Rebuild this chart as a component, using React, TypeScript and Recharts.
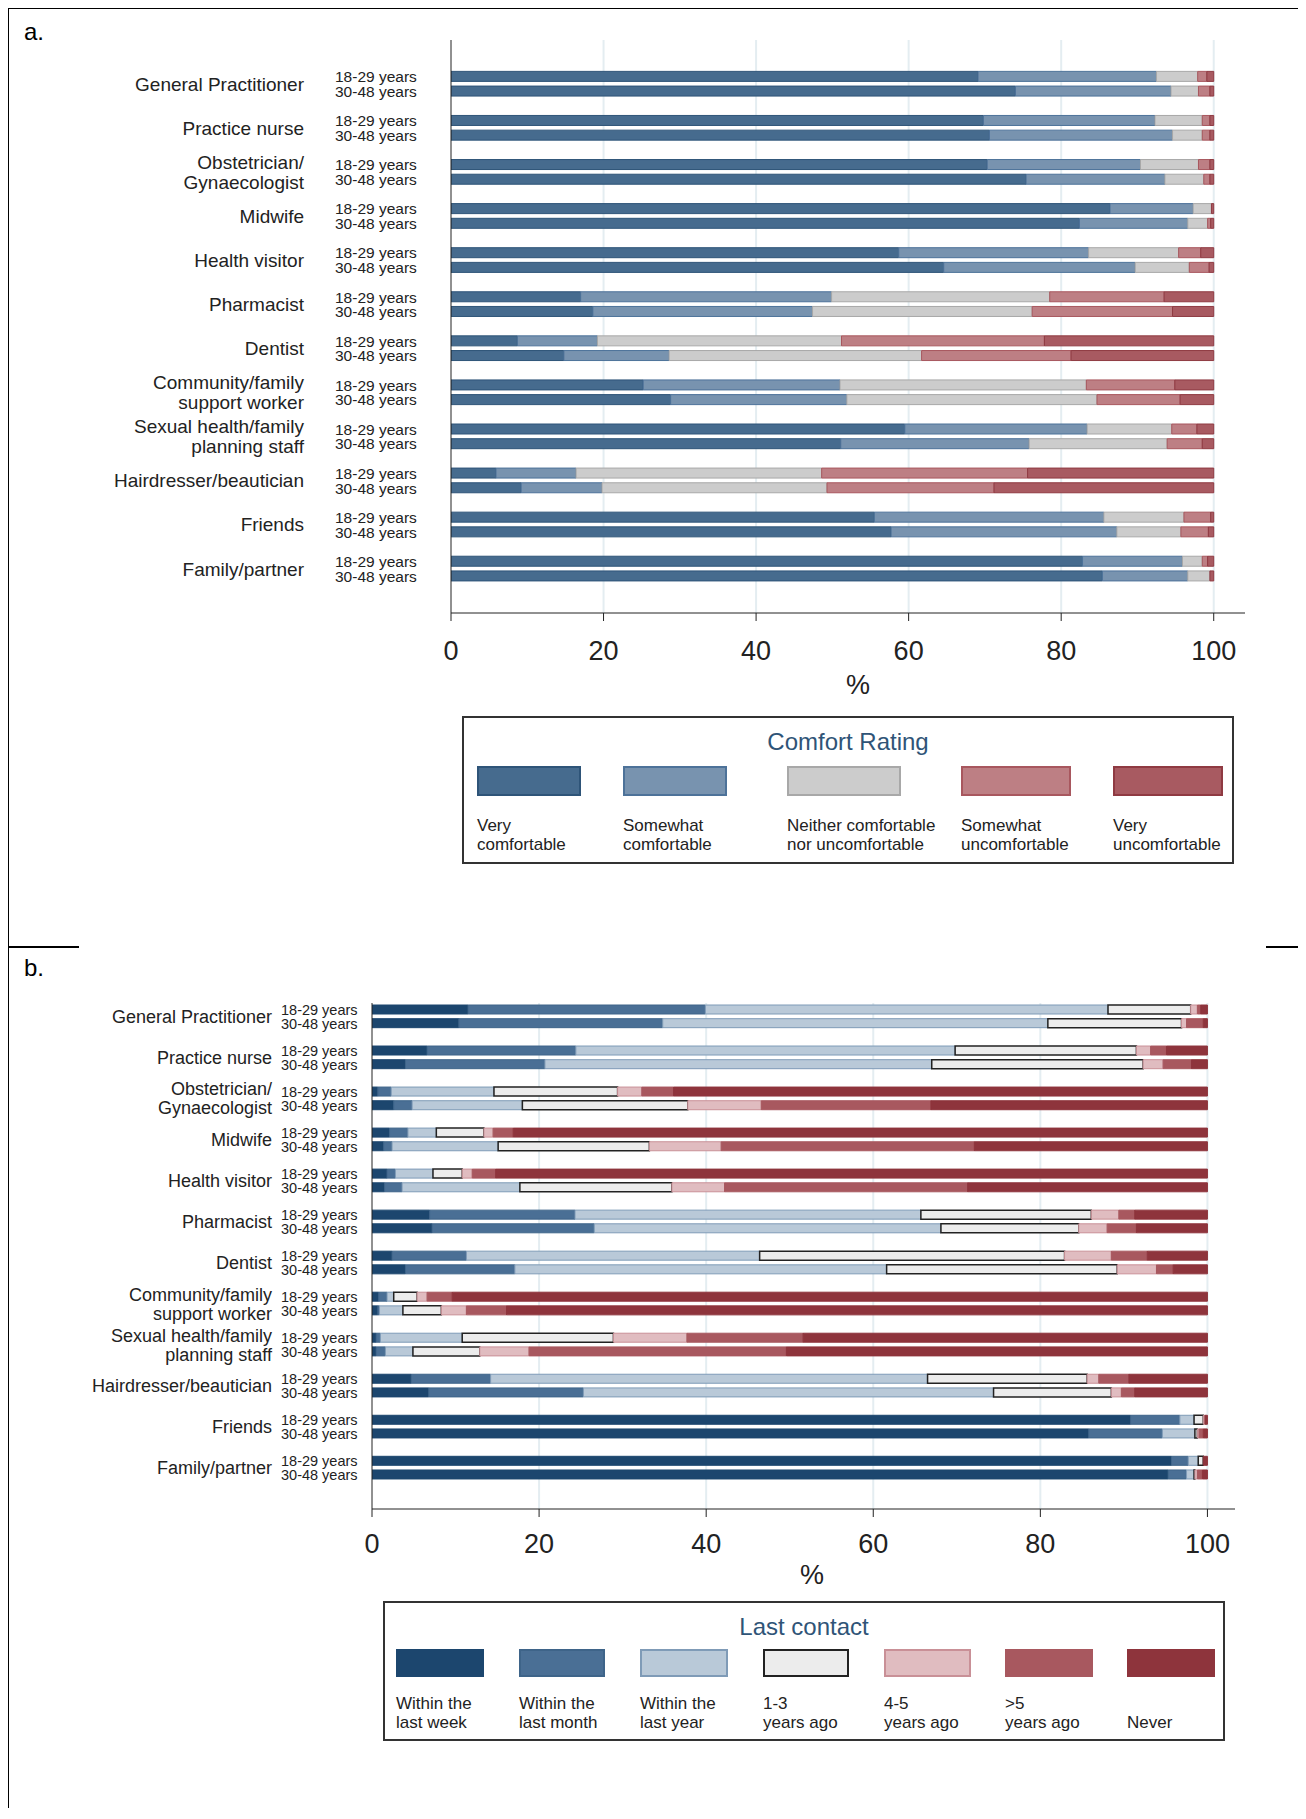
import React from 'react';
import { BarChart, Bar, XAxis, YAxis, CartesianGrid } from 'recharts';

const groups = [
  ['General Practitioner'],
  ['Practice nurse'],
  ['Obstetrician/', 'Gynaecologist'],
  ['Midwife'],
  ['Health visitor'],
  ['Pharmacist'],
  ['Dentist'],
  ['Community/family', 'support worker'],
  ['Sexual health/family', 'planning staff'],
  ['Hairdresser/beautician'],
  ['Friends'],
  ['Family/partner'],
];
const ages = ['18-29 years', '30-48 years'];
const xTicks = [0, 20, 40, 60, 80, 100];

// Panel a: comfort rating (rows: GP 18-29, GP 30-48, Nurse 18-29, ...)
const comfortKeys = ['Very comfortable', 'Somewhat comfortable', 'Neither', 'Somewhat uncomfortable', 'Very uncomfortable'];
const comfortColors = ['#466b8e', '#7893af', '#cccccc', '#bd7f84', '#a85a61'];
const comfortStroke = ['#2e5478', '#4d7299', '#a8a8a8', '#a8575e', '#8f3a42'];
const veryComf = [69.1, 74.0, 69.8, 70.6, 70.3, 75.4, 86.4, 82.4, 58.7, 64.6, 17.0, 18.6, 8.7, 14.8, 25.2, 28.8, 59.5, 51.1, 5.9, 9.2, 55.5, 57.7, 82.8, 85.4];
const someComf = [23.4, 20.4, 22.5, 24.0, 20.1, 18.2, 10.9, 14.2, 24.9, 25.1, 32.9, 28.8, 10.5, 13.8, 25.8, 23.1, 23.9, 24.7, 10.5, 10.6, 30.1, 29.6, 13.1, 11.2];
const neither = [5.4, 3.6, 6.2, 3.9, 7.6, 5.1, 2.4, 2.6, 11.8, 7.1, 28.6, 28.8, 32.0, 33.1, 32.3, 32.8, 11.1, 18.1, 32.2, 29.5, 10.5, 8.4, 2.6, 2.9];
const someUncomf = [1.2, 1.5, 1.0, 1.0, 1.5, 0.8, 0.0, 0.4, 2.9, 2.6, 15.0, 18.4, 26.6, 19.6, 11.6, 10.9, 3.3, 4.6, 27.0, 21.9, 3.5, 3.6, 0.7, 0.0];
const veryUncomf = [0.9, 0.5, 0.5, 0.5, 0.5, 0.5, 0.3, 0.4, 1.7, 0.6, 6.5, 5.4, 22.2, 18.7, 5.1, 4.4, 2.2, 1.5, 24.4, 28.8, 0.4, 0.7, 0.8, 0.5];

// Panel b: last contact
const contactKeys = ['Within the last week', 'Within the last month', 'Within the last year', '1-3 years ago', '4-5 years ago', '>5 years ago', 'Never'];
const contactColors = ['#1c466e', '#4a6f95', '#b9c9d8', '#ececec', '#e0bcc0', '#a8585f', '#8e343c'];
const contactStroke = ['#1c466e', '#3e6489', '#7f9bb7', '#222222', '#c99097', '#a8585f', '#8e343c'];
const lastWeek = [11.5, 10.4, 6.6, 4.0, 0.7, 2.6, 2.1, 1.4, 1.8, 1.5, 6.9, 7.2, 2.4, 4.0, 0.8, 0.7, 0.5, 0.5, 4.7, 6.8, 90.8, 85.8, 95.7, 95.3];
const lastMonth = [28.4, 24.4, 17.8, 16.7, 1.6, 2.2, 2.2, 1.0, 1.0, 2.1, 17.4, 19.4, 8.9, 13.1, 1.0, 0.2, 0.5, 1.1, 9.5, 18.5, 5.9, 8.8, 2.0, 2.2];
const lastYear = [48.2, 46.1, 45.4, 46.3, 12.3, 13.2, 3.4, 12.7, 4.5, 14.1, 41.4, 41.5, 35.1, 44.5, 0.8, 2.8, 9.8, 3.3, 52.3, 49.1, 1.7, 3.9, 1.2, 0.9];
const years13 = [9.9, 16.0, 21.7, 25.3, 14.8, 19.8, 5.7, 18.1, 3.5, 18.2, 20.4, 16.5, 36.5, 27.6, 2.8, 4.6, 18.1, 8.0, 19.1, 14.1, 1.1, 0.3, 0.6, 0.1];
const years45 = [0.8, 0.6, 1.7, 2.4, 2.9, 8.8, 1.1, 8.6, 1.2, 6.3, 3.3, 3.4, 5.6, 4.7, 1.2, 3.0, 8.8, 5.9, 1.4, 1.2, 0.2, 0.2, 0.0, 0.3];
const years5 = [0.4, 2.0, 1.9, 3.4, 3.8, 20.3, 2.4, 30.3, 2.8, 29.1, 1.9, 3.5, 4.3, 2.0, 3.0, 4.8, 13.9, 30.8, 3.6, 1.6, 0.0, 0.5, 0.0, 0.6];
const never = [0.8, 0.5, 4.9, 1.9, 63.9, 33.1, 83.1, 27.9, 85.2, 28.7, 8.7, 8.5, 7.2, 4.1, 90.4, 83.9, 48.4, 50.4, 9.4, 8.7, 0.3, 0.5, 0.5, 0.6];

const FONT = '"Liberation Sans", Arial, sans-serif';

function buildRows(keys: string[], series: number[][], lead: number) {
  const rows: any[] = [];
  for (let i = 0; i < lead; i++) rows.push({ key: 'lead' + i });
  groups.forEach((g, gi) => {
    ages.forEach((a, ai) => {
      const idx = gi * 2 + ai;
      const r: any = { key: `g${gi}a${ai}`, gi, ai };
      keys.forEach((k, ki) => (r[k] = series[ki][idx]));
      rows.push(r);
    });
    rows.push({ key: 'sp' + gi });
  });
  rows.push({ key: 'tail' });
  return rows;
}

const rowsA = buildRows(comfortKeys, [veryComf, someComf, neither, someUncomf, veryUncomf], 2);
const rowsB = buildRows(contactKeys, [lastWeek, lastMonth, lastYear, years13, years45, years5, never], 0);

function makeTick(groupX: number, ageX: number, slot: number, gSize: number, aSize: number) {
  return (props: any) => {
    const { y, payload } = props;
    const m = /^g(\d+)a(\d)$/.exec(payload.value);
    if (!m) return <g />;
    const gi = +m[1];
    const ai = +m[2];
    const lines = groups[gi];
    const gy = y + slot / 2;
    return (
      <g fontFamily={FONT}>
        <text x={ageX} y={y} dy="0.35em" fontSize={aSize} fill="#222" textAnchor="start">{ages[ai]}</text>
        {ai === 0 &&
          lines.map((l, li) => (
            <text key={li} x={groupX} y={gy + (li - (lines.length - 1) / 2) * (gSize + 1)} dy="0.35em" fontSize={gSize} fill="#222" textAnchor="end">{l}</text>
          ))}
      </g>
    );
  };
}

function Legend({ left, top, width, height, title, keys, colors, strokes, labels, swX, swW, swTop, swH, labTop }: any) {
  return (
    <div style={{ position: 'absolute', left, top, width, height, border: '2px solid #333', boxSizing: 'border-box', fontFamily: FONT }}>
      <div style={{ position: 'absolute', left: 0, width: '100%', top: 10, textAlign: 'center', fontSize: 24, color: '#2f5477' }}>{title}</div>
      {keys.map((k: string, i: number) => (
        <React.Fragment key={k}>
          <div style={{ position: 'absolute', left: swX[i] - left, top: swTop - top, width: swW[i], height: swH, background: colors[i], border: `2px solid ${strokes[i]}`, boxSizing: 'border-box' }} />
          <div style={{ position: 'absolute', left: swX[i] - left, top: labTop - top, fontSize: 17, lineHeight: '19px', color: '#222', whiteSpace: 'pre' }}>{labels[i]}</div>
        </React.Fragment>
      ))}
    </div>
  );
}

export default function App() {
  return (
    <div style={{ position: 'relative', width: 1290, height: 1800, background: '#fff', fontFamily: FONT, overflow: 'hidden' }}>
      {/* frame lines */}
      <div style={{ position: 'absolute', left: -1, top: -1, width: 2, height: 1820, background: '#000' }} />
      <div style={{ position: 'absolute', left: -1, top: -1, width: 1300, height: 2, background: '#000' }} />
      <div style={{ position: 'absolute', left: -1, top: 938, width: 72, height: 2, background: '#000' }} />
      <div style={{ position: 'absolute', left: 1258, top: 938, width: 50, height: 2, background: '#000' }} />
      <div style={{ position: 'absolute', left: 16, top: 10, fontSize: 24, color: '#000' }}>a.</div>
      <div style={{ position: 'absolute', left: 16, top: 946, fontSize: 24, color: '#000' }}>b.</div>

      {/* panel a */}
      <div style={{ position: 'absolute', left: -8, top: -8 }}>
        <BarChart width={1306} height={690} data={rowsA} layout="vertical" barCategoryGap={0}
          margin={{ top: 40, right: 61, left: 0, bottom: 17 }}>
          <CartesianGrid vertical horizontal={false} stroke="#e4edf1" strokeWidth={2} verticalValues={[20, 40, 60, 80, 100]} />
          <XAxis type="number" domain={[0, 104.1]} ticks={xTicks} allowDataOverflow height={60}
            tick={{ fontSize: 27, fill: '#222', fontFamily: FONT }} stroke="#222" tickSize={8} tickMargin={20} />
          <YAxis type="category" dataKey="key" width={451} stroke="#222" tickLine={false}
            interval={0} tick={makeTick(304, 335, 14.65, 19, 15.5)} />
          {comfortKeys.map((k, i) => (
            <Bar key={k} dataKey={k} stackId="a" barSize={10} fill={comfortColors[i]} stroke={comfortStroke[i]} strokeWidth={1} isAnimationActive={false} />
          ))}
        </BarChart>
      </div>
      <div style={{ position: 'absolute', left: 838, top: 662, fontSize: 27, color: '#222' }}>%</div>
      <Legend left={454} top={708} width={772} height={148} title="Comfort Rating"
        keys={comfortKeys} colors={comfortColors} strokes={comfortStroke}
        labels={['Very\ncomfortable', 'Somewhat\ncomfortable', 'Neither comfortable\nnor uncomfortable', 'Somewhat\nuncomfortable', 'Very\nuncomfortable']}
        swX={[467, 613, 777, 951, 1103]} swW={[104, 104, 114, 110, 110]} swTop={756} swH={30} labTop={806} />

      {/* panel b */}
      <div style={{ position: 'absolute', left: -8, top: 952 }}>
        <BarChart width={1306} height={630} data={rowsB} layout="vertical" barCategoryGap={0}
          margin={{ top: 43, right: 71, left: 0, bottom: 21 }}>
          <CartesianGrid vertical horizontal={false} stroke="#e4edf1" strokeWidth={2} verticalValues={[20, 40, 60, 80, 100]} />
          <XAxis type="number" domain={[0, 103.3]} ticks={xTicks} allowDataOverflow height={60}
            tick={{ fontSize: 27, fill: '#222', fontFamily: FONT }} stroke="#222" tickSize={8} tickMargin={17} />
          <YAxis type="category" dataKey="key" width={372} stroke="#222" tickLine={false}
            interval={0} tick={makeTick(272, 281, 13.6, 18, 14.5)} />
          {contactKeys.map((k, i) => (
            <Bar key={k} dataKey={k} stackId="b" barSize={9} fill={contactColors[i]} stroke={contactStroke[i]} strokeWidth={i === 3 ? 1.5 : 1} isAnimationActive={false} />
          ))}
        </BarChart>
      </div>
      <div style={{ position: 'absolute', left: 792, top: 1552, fontSize: 27, color: '#222' }}>%</div>
      <Legend left={375} top={1593} width={842} height={140} title="Last contact"
        keys={contactKeys} colors={contactColors} strokes={contactStroke}
        labels={['Within the\nlast week', 'Within the\nlast month', 'Within the\nlast year', '1-3\nyears ago', '4-5\nyears ago', '>5\nyears ago', '\nNever']}
        swX={[386, 509, 630, 753, 874, 995, 1117]} swW={[88, 86, 88, 86, 87, 88, 88]} swTop={1639} swH={28} labTop={1684} />
    </div>
  );
}
